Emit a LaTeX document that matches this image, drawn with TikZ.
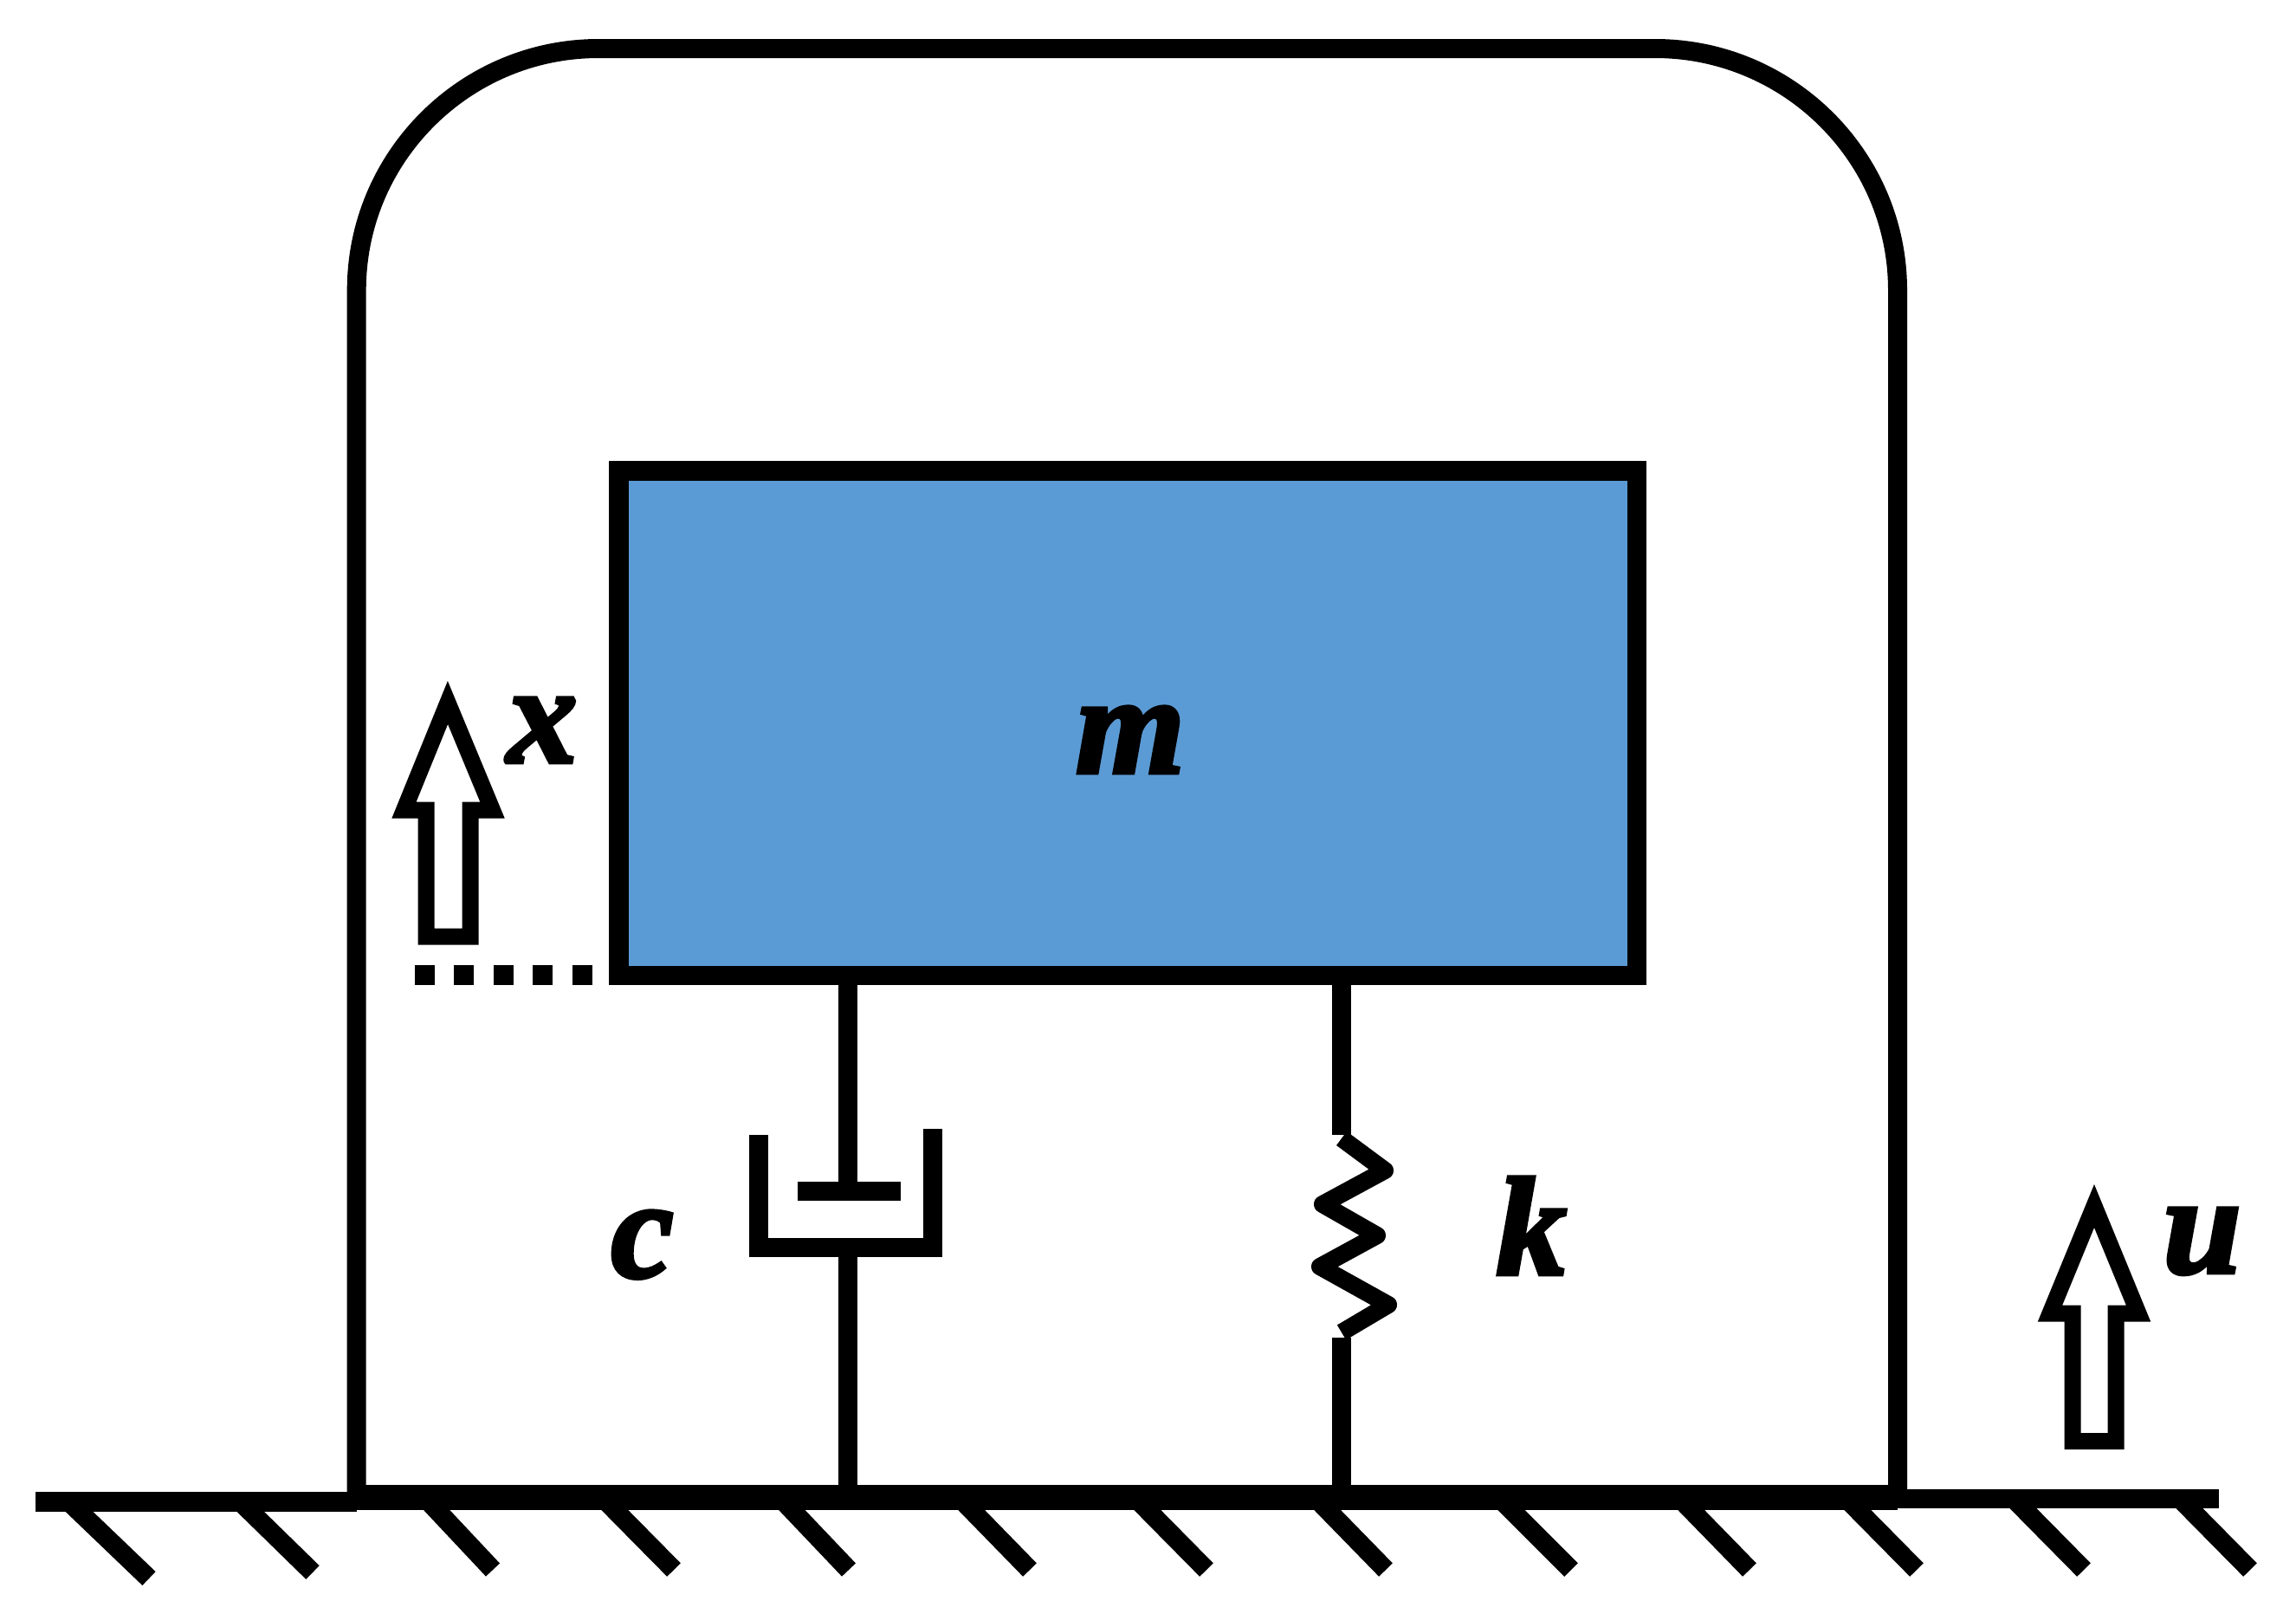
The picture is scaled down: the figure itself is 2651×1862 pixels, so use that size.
\documentclass[tikz,border=0pt]{standalone}
\usepackage{fontspec}
\setmainfont{Liberation Serif}
\newfontfamily\lblfont[UprightFont=*/BI,FakeBold=3]{Liberation Serif}
\definecolor{massblue}{HTML}{5B9BD5}
\tikzset{
  wall/.style={draw=black,line width=0.22cm,line cap=butt,line join=miter},
  rod/.style={draw=black,line width=0.22cm,line cap=butt},
  groundleft/.style={draw=black,line width=0.23cm},
  groundmid/.style={draw=black,line width=0.29cm},
  groundright/.style={draw=black,line width=0.22cm},
  hatchline/.style={draw=black,line width=0.22cm,line cap=butt},
  springline/.style={draw=black,line width=0.2cm,line join=round},
  hollowarrow/.style={draw=black,line width=0.19cm,line join=miter,miter limit=10},
  masslabel/.style={font=\fontsize{46}{46}\lblfont,inner sep=0pt,anchor=base},
  dotline/.style={draw=black,line width=0.23cm,dash pattern=on 0.23cm off 0.2245cm}
}
\begin{document}
\begin{tikzpicture}[x=0.01cm,y=-0.01cm]
\useasboundingbox (0,0) rectangle (2651,1862);
\fill[white] (0,0) rectangle (2651,1862);
% ground
\coordinate (gl) at (41,1733.5);
\coordinate (gm1) at (411.7,1733.5);
\coordinate (gm2) at (411.7,1728.5);
\coordinate (gm3) at (2191,1728.5);
\coordinate (gr1) at (2191,1730);
\coordinate (gr2) at (2562,1730);
\foreach \sx/\ex/\ey in {76/172/1822,274/361/1815,492/569/1812,697/778/1812,902/980/1812,1109/1189/1812,1312/1393/1812,1520/1600/1812,1732/1814/1812,1940/2020/1812,2132/2213/1812,2325/2406/1812,2517/2598/1812}{
  \draw[hatchline] (\sx,1730) -- (\ex,\ey);
}
\draw[groundleft] (gl) -- (gm1);
\draw[groundright] (gr1) -- (gr2);
\draw[groundmid] (gm2) -- (gm3);
% frame
\coordinate (fl) at (411.7,1722);
\coordinate (fr) at (2191,1722);
\draw[wall] (fl) -- (411.7,335) .. controls (411.7,181) and (537,56) .. (691,56) -- (1911,56) .. controls (2065,56) and (2191,181) .. (2191,335) -- (fr);
% mass
\node[draw=black,fill=massblue,line width=0.225cm,minimum width=11.75cm,minimum height=5.825cm,inner sep=0pt,anchor=north west] (mass) at (703,532) {};
\node[masslabel] (mlabel) at (1305,892) {m};
% dotted
\coordinate (d1) at (479,1125.5);
\coordinate (d2) at (686,1125.5);
\draw[dotline] (d1) -- (d2);
% damper
\coordinate (dmptop) at (979,1375);
\coordinate (dmpbot) at (979,1451);
\coordinate (cupl) at (876,1310);
\coordinate (cupr) at (1077,1303);
\coordinate (cupbl) at (876,1439.5);
\coordinate (cupbr) at (1077,1439.5);
\coordinate (pl) at (921,1375);
\coordinate (pr) at (1040,1375);
\coordinate (gd) at (979,1714);
\draw[rod] (mass.south -| dmptop) -- (dmptop);
\draw[rod] (pl) -- (pr);
\draw[wall] (cupl) -- (cupbl) -- (cupbr) -- (cupr);
\draw[rod] (dmpbot) -- (gd);
% spring
\coordinate (st) at (1549,1310);
\coordinate (sb) at (1549,1544);
\coordinate (gs) at (1549,1714);
\draw[rod] (mass.south -| st) -- (st);
\draw[springline] (1549,1314) -- (1599,1351) -- (1527,1390) -- (1590,1426) -- (1524,1462) -- (1603,1506) -- (1549,1538);
\draw[rod] (sb) -- (gs);
% arrows
\draw[hollowarrow] (492,1081) -- (492,935) -- (466.5,935) -- (517,811) -- (568.5,935) -- (543,935) -- (543,1081) -- cycle;
\draw[hollowarrow] (2393,1663.5) -- (2393,1516) -- (2367,1516) -- (2418,1392) -- (2469,1516) -- (2443,1516) -- (2443,1663.5) -- cycle;
% labels
\node[masslabel,anchor=base west] (xlabel) at (585,880) {x};
\node[masslabel,anchor=base west] (clabel) at (705,1474) {c};
\node[masslabel,anchor=base west] (klabel) at (1727,1471) {k};
\node[masslabel,anchor=base west] (ulabel) at (2497,1469) {u};
\end{tikzpicture}
\end{document}
